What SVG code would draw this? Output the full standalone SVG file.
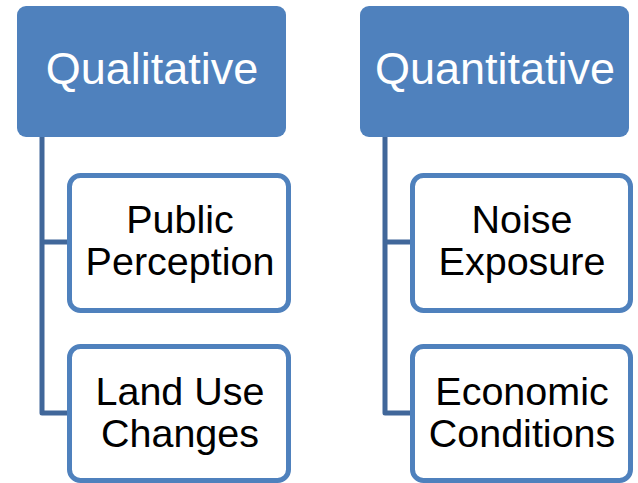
<svg xmlns="http://www.w3.org/2000/svg" width="638" height="483" viewBox="0 0 638 483">
<style>
.hdr{fill:#4F81BD}
.hdrt{fill:#FFFFFF;font-family:"Liberation Sans",Arial,sans-serif;font-size:45px;text-anchor:middle}
.box{fill:#FFFFFF;stroke:#4F81BD;stroke-width:5}
.bt{fill:#000000;font-family:"Liberation Sans",Arial,sans-serif;font-size:39.5px;text-anchor:middle}
.conn{fill:none;stroke:#41679A;stroke-width:5;stroke-linejoin:round}
</style>
<rect width="638" height="483" fill="#FFFFFF"/>
<g id="connectors">
<path class="conn" d="M42,137 V413 H70 M42,242 H70"/>
<path class="conn" d="M385,137 V413 H413 M385,242 H413"/>
</g>
<g id="qualitative">
<rect class="hdr" x="17" y="6" width="269" height="131" rx="9"/>
<text class="hdrt" x="152" y="84">Qualitative</text>
</g>
<g id="public-perception">
<rect class="box" x="69.5" y="175.5" width="219" height="135" rx="11"/>
<text class="bt" x="180" y="233">Public</text>
<text class="bt" x="180" y="275">Perception</text>
</g>
<g id="land-use-changes">
<rect class="box" x="69.5" y="346.5" width="219" height="134" rx="11"/>
<text class="bt" x="180" y="405">Land Use</text>
<text class="bt" x="180" y="447">Changes</text>
</g>
<g id="quantitative">
<rect class="hdr" x="360" y="6" width="269" height="131" rx="9"/>
<text class="hdrt" x="495" y="84">Quantitative</text>
</g>
<g id="noise-exposure">
<rect class="box" x="412.5" y="175.5" width="218" height="135" rx="11"/>
<text class="bt" x="522" y="233">Noise</text>
<text class="bt" x="522" y="275">Exposure</text>
</g>
<g id="economic-conditions">
<rect class="box" x="412.5" y="346.5" width="218" height="134" rx="11"/>
<text class="bt" x="522" y="405">Economic</text>
<text class="bt" x="522" y="447">Conditions</text>
</g>
</svg>
